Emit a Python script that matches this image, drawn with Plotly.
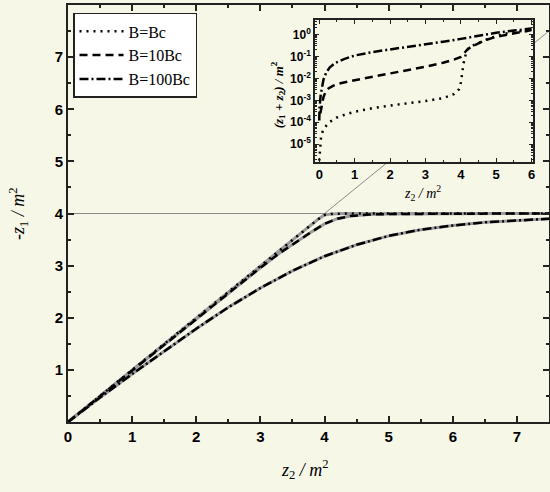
import plotly.graph_objects as go

# ---------------- main panel data ----------------
z2_bc = [0, 1, 2, 3, 3.9, 4.0, 4.1, 4.3, 5, 6, 7, 7.5]
z1_bc = [0, 1, 2, 3, 3.89, 3.97, 3.99, 4.0, 4.0, 4.0, 4.0, 4.0]

z2_10bc = [0, 1, 2, 3, 3.3, 3.6, 3.8, 4.0, 4.2, 4.4, 4.7, 5, 6, 7, 7.5]
z1_10bc = [0, 0.99, 1.98, 2.96, 3.24, 3.49, 3.65, 3.8, 3.9, 3.95, 3.98, 3.99, 4.0, 4.0, 4.0]

z2_100bc = [0, 0.5, 1, 1.5, 2, 2.5, 3, 3.5, 4, 4.5, 5, 5.5, 6, 6.5, 7, 7.5]
z1_100bc = [0, 0.47, 0.92, 1.36, 1.79, 2.2, 2.57, 2.9, 3.18, 3.4, 3.57, 3.69, 3.77, 3.83, 3.87, 3.9]

diag_x = [0, 7.5]
diag_y = [0, 7.5]
hline_x = [0, 7.5]
hline_y = [4, 4]

x_ticks = [0, 1, 2, 3, 4, 5, 6, 7]
y_ticks = [1, 2, 3, 4, 5, 6, 7]

# ---------------- inset data ----------------
in_x_bc = [0.0, 0.02, 0.05, 0.1, 0.2, 0.3, 0.5, 0.75, 1.0, 1.5, 2.0, 2.5, 3.0, 3.5,
           3.8, 3.95, 4.0, 4.04, 4.08, 4.14, 4.22, 4.4, 4.8, 5.2, 5.6, 6.0]
in_y_bc = [1.8e-6, 7.9e-6, 2.0e-5, 4.0e-5, 7.1e-5, 1.05e-4, 1.66e-4, 2.3e-4, 3.0e-4,
           4.4e-4, 5.8e-4, 7.4e-4, 9.3e-4, 1.26e-3, 1.9e-3, 3.2e-3, 6.3e-3, 1.8e-2,
           5.0e-2, 0.126, 0.24, 0.355, 0.66, 1.05, 1.38, 1.66]

in_x_10bc = [0.03, 0.07, 0.12, 0.18, 0.26, 0.4, 0.6, 1.0, 1.5, 2.0, 2.5, 3.0, 3.5, 3.8,
             4.0, 4.1, 4.2, 4.3, 4.45, 4.7, 5.0, 5.4, 5.8, 6.0]
in_y_10bc = [2.5e-4, 6.3e-4, 1.4e-3, 2.5e-3, 3.5e-3, 4.7e-3, 6.0e-3, 8.3e-3, 1.17e-2,
             1.66e-2, 2.3e-2, 3.4e-2, 5.2e-2, 7.1e-2, 9.5e-2, 0.141, 0.219, 0.275,
             0.355, 0.56, 0.79, 1.07, 1.35, 1.58]

in_x_100bc = [0.0, 0.01, 0.04, 0.08, 0.12, 0.2, 0.3, 0.45, 0.7, 1.0, 1.5, 2.0, 2.5, 3.0,
              3.5, 4.0, 4.5, 5.0, 5.5, 6.0]
in_y_100bc = [1.2e-4, 5.0e-4, 1.74e-3, 5.0e-3, 8.9e-3, 1.9e-2, 3.2e-2, 5.0e-2, 7.6e-2,
              0.11, 0.158, 0.209, 0.269, 0.355, 0.468, 0.631, 0.871, 1.2, 1.51, 1.86]

in_x_ticks = [0, 1, 2, 3, 4, 5, 6]
in_y_tickvals = [1, 1e-1, 1e-2, 1e-3, 1e-4, 1e-5]
in_y_ticktext = ["10<sup>0</sup>", "10<sup>-1</sup>", "10<sup>-2</sup>",
                 "10<sup>-3</sup>", "10<sup>-4</sup>", "10<sup>-5</sup>"]

names = ["B=Bc", "B=10Bc", "B=100Bc"]

# ---------------- styles ----------------
BG = "#F7F7E8"
GRAY = "#9a9a9a"
THIN = "#8a8a8a"
AX = "#222222"
SERIF = "Liberation Serif, Times New Roman, serif"
SANS = "Liberation Sans, Arial, sans-serif"
dashes = ["2px,5px", "8px,5px", "9px,3px,2px,3px"]

fig = go.Figure()

# reference lines
fig.add_trace(go.Scatter(x=diag_x, y=diag_y, mode="lines",
                         line=dict(color=THIN, width=1), showlegend=False, hoverinfo="skip"))
fig.add_trace(go.Scatter(x=hline_x, y=hline_y, mode="lines",
                         line=dict(color=THIN, width=1), showlegend=False, hoverinfo="skip"))

main_series = [(z2_bc, z1_bc), (z2_10bc, z1_10bc), (z2_100bc, z1_100bc)]
for (xs, ys) in main_series:
    fig.add_trace(go.Scatter(x=xs, y=ys, mode="lines", line=dict(color=GRAY, width=3),
                             showlegend=False, hoverinfo="skip"))
for (xs, ys), nm, d in zip(main_series, names, dashes):
    fig.add_trace(go.Scatter(x=xs, y=ys, mode="lines", name=nm,
                             line=dict(color="black", width=2.5, dash=d)))

inset_series = [(in_x_bc, in_y_bc), (in_x_10bc, in_y_10bc), (in_x_100bc, in_y_100bc)]
for (xs, ys), d in zip(inset_series, dashes):
    fig.add_trace(go.Scatter(x=xs, y=ys, mode="lines", xaxis="x2", yaxis="y2",
                             line=dict(color="black", width=2.5, dash=d),
                             showlegend=False, hoverinfo="skip"))

minor_log = []
for k in range(-6, 1):
    for m in range(2, 10):
        minor_log.append(m * 10.0 ** k)

tickfont_main = dict(family=SANS, size=15, color="black", weight="bold")
fig.update_layout(
    width=550, height=492,
    margin=dict(l=68, r=1, t=5, b=70, autoexpand=False),
    paper_bgcolor=BG, plot_bgcolor=BG,
    showlegend=True,
    legend=dict(x=0.0104, y=0.981, xanchor="left", yanchor="top",
                bgcolor="white", bordercolor=AX, borderwidth=1.5,
                font=dict(family=SERIF, size=16, color="black"),
                tracegroupgap=0, itemwidth=44),
    xaxis=dict(range=[0, 7.5], tickvals=x_ticks, ticks="inside", ticklen=6, tickwidth=1.5,
               tickcolor=AX, showline=True, linewidth=2, linecolor=AX, mirror="ticks",
               showgrid=False, zeroline=False, tickfont=tickfont_main, automargin=False,
               minor=dict(tickvals=[0.5, 1.5, 2.5, 3.5, 4.5, 5.5, 6.5], ticks="inside",
                          ticklen=3, tickwidth=1.5, tickcolor=AX, showgrid=False)),
    yaxis=dict(range=[0, 8], tickvals=y_ticks, ticks="inside", ticklen=6, tickwidth=1.5,
               tickcolor=AX, showline=True, linewidth=2, linecolor=AX, mirror="ticks",
               showgrid=False, zeroline=False, tickfont=tickfont_main, automargin=False,
               minor=dict(tickvals=[0.5, 1.5, 2.5, 3.5, 4.5, 5.5, 6.5, 7.5], ticks="inside",
                          ticklen=3, tickwidth=1.5, tickcolor=AX, showgrid=False)),
    xaxis2=dict(domain=[0.5135, 0.966], anchor="y2", range=[-0.12, 6.03],
                tickvals=in_x_ticks, ticks="inside", ticklen=4, tickwidth=1, tickcolor=AX,
                showline=True, linewidth=1.5, linecolor=AX, mirror="ticks",
                showgrid=False, zeroline=False, automargin=False,
                tickfont=dict(family=SANS, size=13, color="black", weight="bold"),
                minor=dict(tickvals=[0.5, 1.5, 2.5, 3.5, 4.5, 5.5], ticks="inside",
                           ticklen=2, tickwidth=1, tickcolor=AX, showgrid=False)),
    yaxis2=dict(domain=[0.624, 0.964], anchor="x2", type="log", range=[-5.8, 0.66],
                tickvals=in_y_tickvals, ticktext=in_y_ticktext, ticks="inside", ticklen=4,
                tickwidth=1, tickcolor=AX, showline=True, linewidth=1.5, linecolor=AX,
                mirror="ticks", showgrid=False, zeroline=False, automargin=False,
                tickfont=dict(family=SANS, size=12, color="black", weight="bold"),
                minor=dict(tickvals=minor_log, ticks="inside", ticklen=2, tickwidth=1,
                           tickcolor=AX, showgrid=False)),
    annotations=[
        dict(text="<i>z</i><sub>2</sub><i> / m</i><sup>2</sup>", xref="paper", yref="paper",
             x=0.4927, y=-0.115, xanchor="center", yanchor="middle", showarrow=False,
             font=dict(family=SERIF, size=18, color="black")),
        dict(text="<i>-z</i><sub>1</sub><i> / m</i><sup>2</sup>", xref="paper", yref="paper",
             x=-0.104, y=0.501, xanchor="center", yanchor="middle", showarrow=False,
             textangle=-90, font=dict(family=SERIF, size=18, color="black")),
        dict(text="<i>z</i><sub>2</sub><i> / m</i><sup>2</sup>", xref="paper", yref="paper",
             x=0.738, y=0.549, xanchor="center", yanchor="middle", showarrow=False,
             font=dict(family=SERIF, size=14, color="black")),
        dict(text="<b><i>(z</i><sub>1</sub><i> + z</i><sub>2</sub><i>) / m</i><sup>2</sup></b>",
             xref="paper", yref="paper",
             x=0.437, y=0.784, xanchor="center", yanchor="middle", showarrow=False,
             textangle=-90, font=dict(family=SERIF, size=13, color="black")),
    ],
)

fig.write_html("out.html", config={"displayModeBar": False},
               post_script="document.body.style.margin='0px';document.body.style.padding='0px';")
